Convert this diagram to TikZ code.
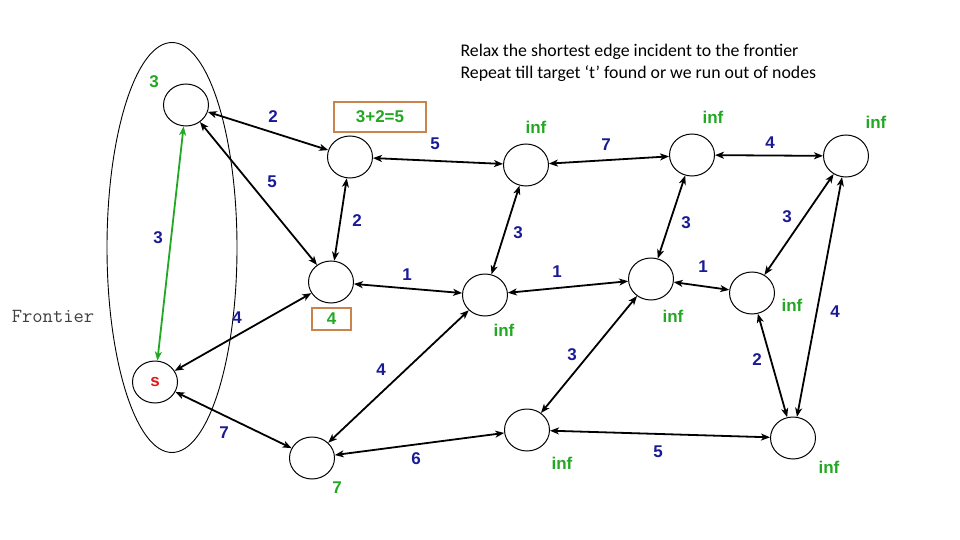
\documentclass[tikz,border=0pt]{standalone}
\usepackage{fontspec}
\setmainfont{Liberation Sans}
\newfontfamily\notefont{Carlito}
\usepackage{xcolor}
\usetikzlibrary{shapes.geometric, arrows.meta}
\definecolor{wblue}{HTML}{1A1A96}
\definecolor{dgreen}{HTML}{22A822}
\definecolor{boxorange}{HTML}{C8844C}
\definecolor{sred}{HTML}{E01818}

\begin{document}
\begin{tikzpicture}[x=1pt, y=-1pt, >={Stealth[length=9pt, width=7pt, inset=2.5pt]},
  vtx/.style={draw, ellipse, minimum width=45pt, minimum height=42pt, inner sep=0pt, line width=1pt},
  wt/.style={text=wblue, font=\fontsize{17}{17}\selectfont\bfseries},
  dist/.style={text=dgreen, font=\fontsize{17}{17}\selectfont\bfseries},
  edge/.style={<->, line width=1.8pt}]
\useasboundingbox (0,0) rectangle (960,540);

% the frontier
\draw[line width=0.9pt] (172,247.5) ellipse [x radius=65, y radius=205];
\node[font=\ttfamily\fontsize{20}{20}\selectfont, text=black!75] (fr) at (53,316) {Frontier};

% vertices
\node[vtx] (a) at (186,105) {};
\node[vtx] (b) at (350,157) {};
\node[vtx] (c) at (331,282) {};
\node[vtx, font=\fontsize{17}{17}\selectfont\bfseries, text=sred] (s) at (155,382) {s};
\node[vtx] (g) at (312,458) {};
\node[vtx] (d) at (526,165) {};
\node[vtx] (e) at (485,295) {};
\node[vtx] (f) at (692,155) {};
\node[vtx] (h) at (651,279) {};
\node[vtx] (i) at (846,156) {};
\node[vtx] (j) at (752,293) {};
\node[vtx] (k) at (527,430) {};
\node[vtx] (l) at (793,438) {};

% edges
\draw[edge, dgreen] (a) -- (s);
\foreach \u/\v in {a/b, a/c, b/c, d/b, c/e, c/s, d/f, d/e, f/i, f/h,
                   e/h, e/g, h/j, h/k, i/j, i/l, j/l, s/g, k/g, k/l}{
    \draw[edge] (\u) -- (\v);
}

% weights
\foreach \x/\y/\w [count=\n] in {273/117/2, 272/182/5, 158/238/3, 357/221/2, 435/144/5,
    606/145/7, 770/143/4, 518/233/3, 686/223/3, 787/217/3, 407/275/1, 557/272/1,
    703/267/1, 237/318/4, 381/370/4, 572/355/3, 757/360/2, 835/312/4, 224/433/7,
    416/459/6, 658/452/5}{
    \node[wt] (w\n) at (\x,\y) {\w};
}

% distances
\foreach \x/\y/\t [count=\n] in {154/82/3, 536/127/inf, 713/117/inf, 876/122/inf,
    504/330/inf, 673/316/inf, 792/305/inf, 337/488/7, 562/463/inf, 829/467/inf}{
    \node[dist] (t\n) at (\x,\y) {\t};
}
\node[dist, draw=boxorange, line width=1.5pt, minimum width=92pt, minimum height=30pt] (bb) at (380,117) {3+2=5};
\node[dist, draw=boxorange, line width=1.5pt, minimum width=39pt, minimum height=22pt, inner sep=0pt] (bc) at (331.5,319) {4};

% notes
\node[anchor=base west, font=\notefont\fontsize{17.8}{17.8}\selectfont] (n1) at (457,57) {Relax the shortest edge incident to the frontier};
\node[anchor=base west, font=\notefont\fontsize{17.8}{17.8}\selectfont] (n2) at (457,79) {Repeat till target ‘t’ found or we run out of nodes};
\end{tikzpicture}
\end{document}
